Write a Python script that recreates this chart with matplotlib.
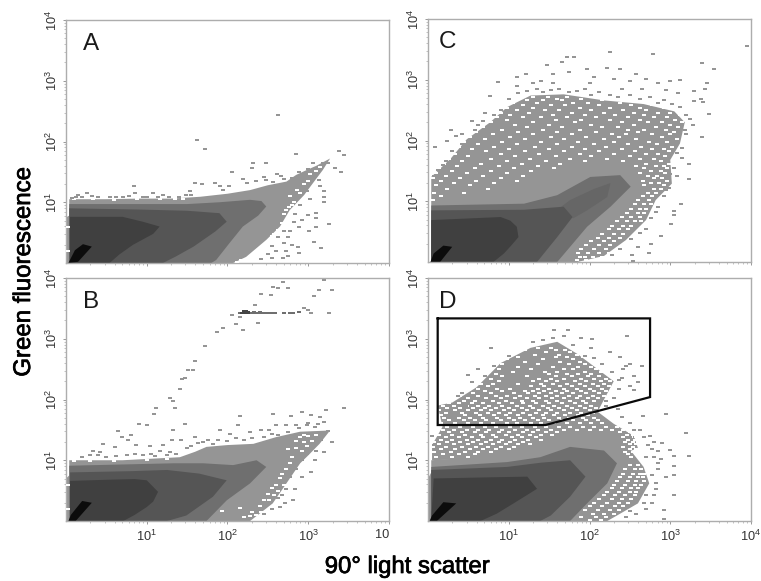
import matplotlib
matplotlib.use("Agg")
import matplotlib.pyplot as plt
import matplotlib.patheffects as pe
from matplotlib.ticker import FixedLocator, LogLocator, NullFormatter

plt.rcParams['font.family'] = ['Liberation Sans', 'DejaVu Sans']
plt.rcParams['mathtext.fontset'] = 'custom'
plt.rcParams['mathtext.rm'] = 'Liberation Sans'

# All values below are log10 of the plotted quantities.
LIGHT, MID, DARK, DARKEST, BLACK = '#959595', '#6f6f6f', '#555555', '#404040', '#0c0c0c'

decade_ticks = [10, 100, 1000, 10000]
tick_labels = [r'$\mathregular{10^{1}}$', r'$\mathregular{10^{2}}$', r'$\mathregular{10^{3}}$', r'$\mathregular{10^{4}}$']

# ---------- Panel A
a_light = [(.0,0),(.0,.75),(.04,.78),(.04,1.05),(.5,1.05),(.9,1.06),(1.3,1.06),(1.66,1.09),(2.0,1.14),(2.28,1.2),(2.5,1.28),(2.73,1.34),(2.85,1.45),(2.98,1.53),(3.1,1.6),(3.27,1.72),(3.18,1.53),(3.05,1.3),(2.95,1.12),(2.77,.87),(2.65,.6),(2.48,.38),(2.23,.1),(2.07,0)]
a_mid = [(.04,0),(.04,.97),(1.5,.97),(1.9,1.0),(2.28,1.04),(2.42,1.02),(2.48,.93),(2.38,.78),(2.19,.6),(2.02,.32),(1.86,.05),(1.8,0)]
a_dark = [(.04,0),(.04,.9),(.9,.88),(1.5,.86),(1.9,.82),(1.99,.68),(1.85,.52),(1.58,.27),(1.35,.1),(1.2,0)]
a_darkest = [(.05,0),(.05,.76),(.7,.76),(.95,.68),(1.16,.6),(1.08,.48),(.83,.3),(.66,.14),(.54,0)]
a_black = [(.03,0),(.15,.02),(.32,.27),(.21,.31),(.11,.21)]
a_specks = [(2.63,2.43),(1.62,2.03),(1.72,1.87),(2.85,1.8),(3.38,1.84),(3.44,1.77),(3.41,1.49),(2.48,1.64),(2.31,1.64),(2.3,1.56),(2.06,1.49),(2.19,1.38),(2.24,1.32),(.84,1.27),(1.6,1.31),(1.69,1.3),(1.84,1.31),(1.91,1.27),(1.95,1.2),(1.53,1.18),(1.49,1.12),(1.57,1.04),(2.61,1.47),(2.66,1.43),(2.56,1.34),(2.48,1.37),(3.25,1.64),(3.18,1.64),(3.06,1.64),(3.33,1.56),(3.12,1.48),(3.14,1.26),(3.2,1.19),(3.19,1.09),(3.2,1),(3.1,.82),(3.1,.74),(3,.79),(3.26,.65),(3.01,.53),(3.1,.59),(3.07,.34),(3.16,.24),(2.87,.27),(2.89,.16),(2.69,.09),(.07,1.07),(.15,1.12),(.26,1.15),(.54,1.09),(.85,1.15),(1.08,1.15),(1.2,1.12),(.4,1.08),(.7,1.09),(.95,1.09),(1.4,1.09),(2.95,1.4),(2.9,1.25),(2.85,1.05),(2.9,.95),(2.84,.8),(2.82,.68),(2.78,.52),(2.75,.42),(2.7,.33),(2.6,.2),(2.5,.14),(2.42,.06),(2.55,.08),(2.8,.3),(2.72,.2),(1.55,1.12),(3.05,1.43),(3.13,1.36),(2.02,1.26),(2.35,1.35),(2.45,1.42),(.12,1.09),(.2,1.08),(.32,1.1),(.62,1.08),(.78,1.1),(1.0,1.08),(1.14,1.08),(1.28,1.09),(2.7,1.38),(2.8,1.4),(2.88,1.5),(3.0,1.55),(2.98,1.18),(3.02,1.05),(2.92,.7),(2.88,.6),(2.7,.52),(2.62,.42),(2.55,.28),(2.75,.12)]
a_holes = [(2.9,1.15),(2.82,1.0),(2.76,.92),(2.7,.8),(2.74,.7),(2.68,.66),(2.62,.55),(2.55,.45),(2.6,.4),(2.5,.33),(2.44,.25),(2.4,.17),(2.3,.1),(2.17,.05),(2.2,.03),(2.26,.04),(2.36,.07),(2.78,1.1),(2.95,1.3),(3.02,1.46),(.02,.2),(.02,.6),(2.52,.28),(2.86,1.2),(2.8,.95),(2.72,.87),(2.58,.48),(2.47,.22),(2.12,.02),(3.0,1.35),(3.1,1.52),(3.15,1.58),(.1,1.05),(.34,1.05),(.6,1.04),(.88,1.05),(1.16,1.05),(1.35,1.05),(1.45,1.06)]

# ---------- Panel B
b_light = [(.0,0),(.0,.7),(.04,.75),(.04,1),(.7,1.0),(1.41,1.05),(1.6,1.14),(1.74,1.22),(2.0,1.25),(2.32,1.27),(2.6,1.38),(2.9,1.47),(3.27,1.49),(3.14,1.27),(3.0,1.08),(2.9,.95),(2.73,.62),(2.56,.29),(2.28,0)]
b_mid = [(.04,0),(.04,.91),(1.33,.95),(1.7,.95),(2.07,.92),(2.36,1),(2.48,.89),(2.28,.62),(1.99,.34),(1.74,0)]
b_dark = [(.05,0),(.05,.8),(.8,.82),(1.25,.84),(1.65,.78),(1.99,.67),(1.82,.4),(1.49,.09),(1.25,0)]
b_darkest = [(.05,0),(.05,.66),(.54,.68),(.85,.69),(1,.67),(1.14,.48),(1.08,.32),(1,.23),(.85,.1),(.71,0)]
b_black = [(.03,0),(.12,0),(.32,.3),(.2,.33),(.06,.1)]
b_specks = [(.9,1.6),(1,1.58),(1.09,1.76),(1.12,1.86),(1.29,2.02),(1.32,1.98),(1.35,1.86),(1.41,2.17),(1.44,2.34),(1.47,2.36),(1.51,2.48),(1.57,2.48),(1.6,2.64),(1.72,2.88),(1.87,3.11),(1.95,3.17),(2.06,3.39),(2.1,3.24),(2.19,3.14),(2.16,3.36),(2.34,3.55),(2.38,3.26),(2.41,3.74),(2.54,3.72),(2.56,3.86),(2.63,3.83),(2.69,3.93),(2.75,3.83),(2.95,3.51),(3,3.48),(3.04,3.43),(3.07,3.7),(3.13,3.8),(3.2,3.96),(3.29,3.8),(3.26,3.43),(3.44,1.86),(3.22,1.82),(2.56,1.76),(2.16,1.73),(2.13,1.58),(1.47,1.6),(1.32,1.5),(1.6,1.38),(.65,1.48),(.69,1.38),(.81,1.42),(.77,1.33),(.87,1.25),(.46,1.26),(.61,1.22),(.34,1.16),(.42,1.14),(1.04,1.24),(1.2,1.25),(1.31,1.33),(1.16,1.16),(1.43,1.33),(1.29,1.14),(1.91,1.49),(2.03,1.44),(1.76,1.33),(1.82,1.27),(2.79,1.73),(2.92,1.8),(3.04,1.74),(2.73,1.58),(2.6,1.58),(2.28,1.47),(2.41,1.49),(2.52,1.49),(3.14,1.71),(3.2,1.63),(3.25,1.48),(3.29,1.3),(3.16,1.33),(3.1,1.16),(3.2,1.14),(3.08,1),(3.04,.8),(2.92,.73),(2.83,.53),(2.81,.34),(2.71,.29),(2.65,.23),(.3,1.08),(.5,1.05),(.62,1.07),(.75,1.09),(.95,1.08),(1.1,1.07),(1.25,1.08),(1.36,1.1),(1.5,1.2),(1.63,1.28),(2.0,1.32),(2.2,1.33),(2.45,1.38),(2.62,1.42),(2.75,1.46),(2.88,1.53),(2.98,1.58),(3.08,1.55),(2.98,1.1),(2.92,1.0),(2.85,.85),(2.78,.72),(2.72,.52),(2.62,.38),(2.55,.2),(2.45,.12),(2.68,.42),(.2,1.06),(.4,1.08),(.85,1.1),(1.05,1.1),(1.55,1.24),(1.7,1.3),(1.88,1.33),(2.1,1.36),(2.3,1.36),(2.55,1.44),(2.85,1.58),(3.0,1.62),(3.12,1.6)]
b_blob = [(2.2,3.43),(2.23,3.44),(2.26,3.44),(2.23,3.46),(2.2,3.45),(2.18,3.42),(2.25,3.42)]
b_streak = [(2.16,3.42),(2.29,3.43),(2.33,3.44),(2.36,3.43),(2.41,3.42),(2.46,3.43),(2.5,3.43),(2.55,3.43),(2.59,3.43),(2.7,3.43),(2.77,3.43),(2.81,3.43),(2.88,3.44),(2.34,3.43),(2.4,3.44)]
b_holes = [(2.85,1.32),(2.9,1.38),(2.95,1.3),(2.98,1.24),(2.85,1.2),(2.8,1.05),(2.75,1.18),(2.68,.78),(2.65,.7),(2.6,.6),(2.55,.55),(2.62,.5),(2.5,.45),(2.45,.35),(2.4,.25),(2.3,.15),(2.28,.08),(2.2,.06),(2.15,.22),(1.93,.17),(2.52,.35),(.02,.2),(.02,.6),(2.72,.85),(3.0,1.4),(3.05,1.32),(2.92,1.15),(2.78,.95),(2.7,.6),(2.58,.42),(2.42,.15),(2.35,.1),(2.95,1.42),(3.1,1.42),(.1,.98),(.3,.98),(.6,.98),(1.0,1.0),(1.25,1.02)]

# ---------- Panel C
c_cloud = [(.04,.96),(.04,1.4),(.28,1.7),(.48,2.02),(.77,2.3),(.98,2.55),(1.27,2.74),(1.68,2.76),(2.18,2.66),(2.67,2.6),(3.05,2.48),(3.18,2.3),(3.12,1.95),(3.0,1.68),(3.02,1.29),(2.82,1.02),(2.7,.69),(2.45,.36),(2.18,.1),(1.85,0),(.04,0)]
c_mid = [(.04,0),(.04,.93),(1.19,.96),(1.6,1.1),(2.01,1.4),(2.38,1.43),(2.51,1.24),(2.26,.91),(1.97,.58),(1.76,.25),(1.6,0)]
c_midd = [(1.6,.86),(1.76,1.02),(2.05,1.2),(2.26,1.3),(2.22,1.07),(1.97,.85),(1.8,.72)]
c_dark = [(.04,0),(.04,.85),(1.19,.86),(1.68,.91),(1.79,.74),(1.6,.41),(1.35,0)]
c_darkest = [(.04,0),(.04,.69),(.9,.74),(1.02,.68),(1.1,.58),(1.12,.41),(1.03,.27),(.94,.14),(.81,0)]
c_black = [(.03,0),(.15,0),(.3,.25),(.19,.27),(.07,.14)]
c_specks = [(3.95,3.55),(2.25,3.46),(2.79,3.43),(3.39,3.28),(3.54,3.17),(1.47,3.24),(1.66,3.3),(1.72,3.37),(1.81,3.37),(1.97,3.17),(2.22,3.2),(2.38,3.17),(2.57,3.1),(1.1,3.04),(1.21,3.1),(.87,2.96),(.77,2.74),(.09,1.9),(.28,2.17),(.42,2.11),(.71,2.45),(3.48,2.43),(3.39,2.06),(3.23,1.62),(3.23,1.36),(3.13,.96),(3.05,.84),(3.05,.77),(3.01,.62),(2.88,.42),(2.76,.3),(2.74,.14),(2.53,.11),(2.54,.02),(1.1,2.9),(1.4,2.98),(1.55,3.1),(1.75,3.13),(2.05,3.05),(2.3,3.02),(2.5,2.98),(2.7,3.02),(2.85,2.95),(3.0,2.98),(3.12,3.0),(3.3,2.82),(3.43,2.85),(3.45,2.95),(3.3,2.65),(3.38,2.68),(3.4,2.63),(2.0,2.95),(1.3,2.95),(1.55,2.95),(1.95,2.85),(2.4,2.85),(2.65,2.85),(2.95,2.83),(3.1,2.78),(.18,1.6),(.23,2.0),(.55,2.32),(.62,2.25),(.35,2.07),(3.2,2.1),(3.28,2.25),(3.15,1.72),(3.15,1.88),(3.0,1.45),(2.95,1.18),(2.85,.9),(2.7,.55),(2.6,.25),
 (1.0,2.68),(1.12,2.78),(1.22,2.82),(1.35,2.85),(1.42,2.8),(1.52,2.83),(1.62,2.85),(1.75,2.8),(1.85,2.82),(2.02,2.75),(2.12,2.8),(2.25,2.75),(2.35,2.72),(2.5,2.75),(2.62,2.68),(2.75,2.72),(2.85,2.62),(2.92,2.66),(3.02,2.6),(3.12,2.55),(3.2,2.42),(3.24,2.35),(3.18,2.18),(3.1,1.98),(3.08,1.8),(3.05,1.55),(3.08,1.42),(2.98,1.22),(2.92,1.08),(2.82,.82),(2.76,.72),(2.62,.48),(2.52,.38),(2.38,.22),(2.28,.12),(.9,2.5),(.82,2.42),(.68,2.32),(.58,2.18),(.42,1.95),(.3,1.82),(.22,1.66),(.12,1.52),(.08,1.42)]
c_holes = [
 (2.72,[1.3,1.48,1.72,2.05]),(2.69,[1.12,1.6,1.9,2.3,2.48]),(2.66,[1.22,1.42,1.66,2.15,2.6,2.72]),(2.62,[1.05,1.35,1.8,1.98,2.38,2.88]),
 (2.58,[1.18,1.52,1.7,2.12,2.52,2.78,3.0]),(2.54,[.98,1.3,1.88,2.26,2.62,2.92]),(2.5,[1.1,1.45,1.62,2.02,2.42,2.7,3.08]),
 (2.46,[.9,1.25,1.78,2.18,2.55,2.85,3.0]),(2.42,[1.02,1.55,1.95,2.32,2.68,3.12]),(2.38,[.85,1.18,1.4,1.72,2.08,2.48,2.8,2.96]),
 (2.34,[.98,1.58,1.9,2.25,2.62,3.06]),(2.3,[.78,1.3,1.82,2.4,2.72,2.9,3.14]),(2.26,[1.08,1.5,2.02,2.55,3.0]),
 (2.22,[.68,1.22,1.66,2.15,2.35,2.82,3.1]),(2.18,[.92,1.42,1.88,2.48,2.68,2.95]),(2.14,[.6,1.12,1.6,2.08,2.6,3.05]),
 (2.1,[.8,1.3,1.78,2.28,2.45,2.78,3.0]),(2.06,[.52,1.02,1.52,1.96,2.36,2.9]),(2.02,[.7,1.2,1.68,2.18,2.58,3.08]),
 (1.98,[.44,.92,1.4,1.86,2.3,2.74,2.96]),(1.94,[.62,1.1,1.6,2.06,2.48,2.84]),(1.9,[.38,.82,1.32,1.78,2.2,2.64,3.02]),
 (1.86,[.54,1.0,1.5,1.95,2.4,2.78,2.92]),(1.82,[.72,1.2,1.68,2.12,2.56,2.98]),(1.78,[.34,.9,1.38,1.88,2.3,2.7,2.85]),
 (1.74,[.5,1.08,1.58,2.02,2.5,2.94]),(1.7,[.26,.78,1.26,1.76,2.22,2.62,2.8]),(1.66,[.42,.98,1.46,1.94,2.42,2.88]),
 (1.62,[.2,.66,1.16,1.64,2.7,2.98]),(1.58,[.36,.88,1.36,2.58,2.82,2.92]),(1.54,[.14,.58,1.06,1.56,2.68,2.96]),
 (1.5,[.3,.78,1.28,2.76,2.88]),(1.46,[.1,.48,.98,2.62,2.94]),(1.42,[.22,.68,1.18,2.72,2.84]),(1.38,[.06,.4,.9,2.8,2.9]),
 (1.34,[.16,.6,1.1,2.66,2.96]),(1.3,[.32,.82,2.76,2.86]),(1.26,[.1,.52,2.68,2.92]),(1.2,[.24,.74,2.8,2.88]),
 (1.14,[.08,.44,2.72,2.82]),(1.08,[.16,2.66,2.78]),(1.02,[.06,2.6,2.74]),(.95,[2.56,2.68,2.76]),(.88,[2.52,2.62,2.7]),
 (.8,[2.46,2.6,2.68]),(.74,[2.4,2.52,2.62]),(.68,[2.34,2.46,2.56,2.64]),(.6,[2.28,2.42,2.52]),(.54,[2.24,2.36,2.48]),
 (.46,[2.16,2.3,2.42]),(.4,[2.1,2.24,2.38]),(.34,[2.02,2.18,2.3]),(.28,[1.96,2.12,2.26]),(.22,[1.9,2.05,2.2]),
 (.15,[1.86,1.98,2.12,2.24]),(.08,[1.88,1.94,2.04,2.16]),(.03,[1.84,1.96,2.08]),
]

# ---------- Panel D
d_cloud = [(.05,1.0),(.05,1.25),(.18,1.55),(.12,1.9),(.3,1.95),(.6,2.2),(.9,2.6),(1.27,2.85),(1.6,2.95),(1.85,2.75),(2.1,2.5),(2.3,2.3),(2.1,1.8),(2.3,1.6),(2.55,1.4),(2.6,1.2),(2.4,1.1)]
d_light = [(.0,0),(.0,.7),(.04,.8),(.04,1),(.9,1.08),(1.39,1.33),(1.85,1.44),(2.26,1.33),(2.51,1.16),(2.67,.89),(2.74,.62),(2.6,.29),(2.34,.09),(2.22,0)]
d_mid = [(.04,0),(.04,.89),(.98,.97),(1.39,1.05),(1.76,1.22),(2.18,1.16),(2.34,.95),(2.22,.62),(1.97,.29),(1.76,0)]
d_dark = [(.04,0),(.04,.84),(.98,.89),(1.4,.96),(1.76,1),(1.95,.73),(1.76,.4),(1.52,.09),(1.39,0)]
d_darkest = [(.04,0),(.07,.7),(.8,.72),(1.23,.73),(1.35,.53),(1.06,.29),(.85,.12),(.65,0)]
d_black = [(.02,0),(.11,0),(.35,.29),(.19,.31),(.05,.09)]
d_specks = [(1.56,3.15),(2.47,3.04),(.78,2.85),(1.73,3.15),(1.9,3.02),(2.03,3.0),(2.02,2.85),(2.25,2.78),(2.38,2.7),(2.5,2.58),(2.45,2.55),(.49,2.4),(.62,2.5),(.37,2.05),(2.55,2.38),(2.5,2.22),(2.65,2.55),(2.55,2.15),(2.6,2.28),(2.4,2.35),(2.37,2.18),(2.3,2.02),(2.2,1.98),(2.95,1.76),(3.2,1.45),(3.23,1.07),(2.66,1.73),(2.8,1.3),(2.9,1.28),(3.0,1.17),(3.05,1.07),(3.05,.9),(3.05,.75),(3.05,.42),(2.92,.18),(2.92,.04),(2.85,.95),(2.95,.72),(2.82,.52),(2.8,.42),(2.78,.3),(2.7,.2),(2.58,.12),(2.45,.06),(2.7,1.05),(2.85,1.15),(2.75,1.4),(2.55,1.5),(.05,1.4),(.07,1.25),(.2,1.82),(.3,1.75),(.4,1.82),(.47,1.9),(2.5,1.38),
 (1.3,2.95),(1.42,2.98),(1.55,3.02),(1.68,3.05),(1.8,2.9),(1.95,2.72),(2.05,2.68),(2.15,2.58),(2.28,2.45),(2.36,2.32),(2.42,2.5),(1.0,2.72),(.82,2.55),(.7,2.38),(.55,2.28),(.42,2.1),(2.2,1.9),(2.35,1.85),(2.4,1.72),(2.5,1.62),(2.62,1.5),(2.68,1.38),(2.72,1.25),(2.78,1.18),(2.8,1.05),(2.85,.85),(2.78,.75),(2.82,.62),(2.7,.42),(2.68,.3),(2.5,.16),(2.88,1.02)]
d_holes = [
 (2.85,[1.36,1.52]),(2.82,[1.2,1.58,1.7]),(2.78,[1.1,1.46,1.76]),(2.74,[1.0,1.32,1.62,1.84]),(2.7,[1.12,1.58,1.72,1.92]),(2.66,[.98,1.42,1.8,1.98]),
 (2.62,[1.2,1.64,1.88,2.05]),(2.58,[.92,1.36,1.74,1.95,2.1]),(2.54,[.82,1.12,1.55,1.86,2.02,2.16]),(2.5,[.88,1.28,1.68,1.8,2.08,2.2]),(2.46,[.76,1.05,1.45,1.6,1.94,2.14,2.24]),
 (2.42,[.84,1.5,1.72,1.86,2.02,2.26]),(2.38,[.7,.92,1.22,1.58,1.78,1.98,2.12,2.28]),(2.34,[.78,1.38,1.52,1.68,1.9,2.06,2.2]),(2.3,[.6,.88,1.3,1.46,1.6,1.82,1.96,2.14,2.26]),
 (2.26,[.66,.8,1.12,1.4,1.55,1.72,1.88,2.04,2.18]),(2.22,[.54,.74,1.28,1.44,1.64,1.78,1.94,2.1,2.24]),(2.18,[.62,.86,1.02,1.36,1.5,1.68,1.84,2.0,2.16,2.28]),
 (2.14,[.48,.7,.92,1.2,1.3,1.44,1.58,1.72,1.9,2.06,2.2]),(2.1,[.56,.78,1.06,1.24,1.38,1.52,1.66,1.8,1.96,2.12]),(2.06,[.4,.62,.84,.98,1.14,1.32,1.46,1.6,1.74,1.88,2.04,2.18]),
 (2.02,[.32,.5,.72,.9,1.08,1.22,1.38,1.54,1.68,1.84,1.98,2.1]),(1.98,[.44,.58,.8,.96,1.16,1.3,1.46,1.6,1.76,1.92,2.06]),(1.94,[.26,.38,.54,.68,.88,1.04,1.18,1.34,1.5,1.66,1.82,1.96]),
 (1.9,[.18,.32,.48,.62,.76,.92,1.1,1.26,1.42,1.56,1.72,1.88,2.02]),(1.86,[.24,.4,.56,.7,.84,1.0,1.16,1.3,1.48,1.62,1.78,1.94,2.08]),(1.82,[.14,.34,.5,.66,.78,.94,1.06,1.22,1.38,1.52,1.68,1.84,2.0]),
 (1.78,[.22,.42,.6,.74,.88,1.02,1.18,1.34,1.46,1.6,1.76,1.9,2.04]),(1.74,[.16,.3,.46,.64,.82,.96,1.12,1.26,1.42,1.56,1.7,1.86,1.98]),(1.7,[.2,.38,.52,.68,.86,1.0,1.14,1.3,1.44,1.62,1.74,1.92,2.06]),
 (1.66,[.26,.44,.58,.72,.9,1.06,1.2,1.36,1.5,1.66,1.8,1.96,2.1]),(1.62,[.16,.34,.5,.66,.8,.98,1.1,1.28,1.4,1.56,1.72,1.88,2.02,2.16]),(1.54,[.1,.24,.4,.56,.7,.84,1.02,1.16,1.32,1.46,1.62,1.76,1.92,2.06,2.2,2.34]),
 (1.5,[.18,.32,.48,.62,.76,.92,1.08,1.22,1.36,1.52,1.68,1.84,2.0,2.14,2.28,2.42]),(1.46,[.08,.26,.42,.58,.72,.88,1.0,1.18,1.3,1.46,1.6,2.38,2.5]),(1.42,[.14,.3,.46,.66,.8,.96,1.12,1.26,1.4,1.54,2.46,2.54]),
 (1.38,[.08,.22,.38,.54,.68,.84,1.04,1.16,1.34,2.42,2.52,2.58]),(1.34,[.16,.3,.48,.62,.78,.92,1.08,1.24,1.4,2.48,2.56]),(1.3,[.08,.24,.4,.56,.72,.88,1.02,1.18,2.44,2.54,2.6]),
 (1.26,[.14,.32,.5,.66,.8,.96,1.12,1.26,2.5,2.58]),(1.22,[.06,.22,.42,.6,.74,.9,1.06,2.42,2.54]),(1.18,[.16,.34,.52,.68,.84,1.0,2.5,2.58]),(1.14,[.08,.28,.46,.62,.78,2.44,2.54]),(1.1,[.18,.38,.58,2.48,2.58]),(1.06,[.1,.3,.5,2.52,2.62]),
 (.92,[2.5,2.6]),(.85,[2.44,2.56,2.64]),(.78,[2.42,2.54,2.62,2.68]),(.72,[2.38,2.5,2.6,2.66]),(.66,[2.34,2.48,2.58,2.68]),(.6,[2.3,2.44,2.56,2.64]),(.54,[2.28,2.4,2.52,2.6]),(.48,[2.22,2.36,2.5,2.58]),(.42,[2.18,2.32,2.44,2.56]),(.36,[2.12,2.28,2.4,2.52]),(.3,[2.06,2.22,2.36,2.48]),(.24,[2.0,2.16,2.32,2.42]),(.18,[1.94,2.1,2.26,2.36]),(.12,[2.04,2.18,2.3]),(.06,[1.9,2.08,2.2]),(.02,[2.0,2.14]),
]
d_gate = [(.12,3.335),(2.75,3.335),(2.75,2.04),(1.455,1.58),(.12,1.58)]

panels = [
    dict(name='A', pos=(66,20), lab=25, bands=[(a_light,LIGHT),(a_mid,MID),(a_dark,DARK),(a_darkest,DARKEST),(a_black,BLACK)], specks=a_specks, holes=a_holes),
    dict(name='C', pos=(428,19), lab=20, bands=[(c_cloud,LIGHT),(c_mid,MID),(c_midd,'#666666'),(c_dark,DARK),(c_darkest,DARKEST),(c_black,BLACK)], specks=c_specks, holes=[(x,y) for y,xs in c_holes for x in xs]),
    dict(name='B', pos=(66,278), lab=25, bands=[(b_light,LIGHT),(b_mid,MID),(b_dark,DARK),(b_darkest,DARKEST),(b_black,BLACK)], specks=b_specks, holes=b_holes),
    dict(name='D', pos=(428,278), lab=20, bands=[(d_cloud,LIGHT),(d_light,LIGHT),(d_mid,MID),(d_dark,DARK),(d_darkest,DARKEST),(d_black,BLACK)], specks=d_specks, holes=[(x,y) for y,xs in d_holes for x in xs]),
]

W, H = 761, 581
AW, AH = 323, 243
fig = plt.figure(figsize=(W/100, H/100), dpi=100)
FRAME = '#adadad'
CELL = [(-1,-.6),(1,-.6),(1,.6),(-1,.6)]

def up(points):
    return [10**p[0] for p in points], [10**p[1] for p in points]

for p in panels:
    left, top = p['pos']
    ax = fig.add_axes([left/W, 1-(top+AH)/H, AW/W, AH/H])
    ax.set_xscale('log'); ax.set_yscale('log')
    ax.set_xlim(1, 1e4); ax.set_ylim(1, 1e4)
    for poly, col in p['bands']:
        xs, ys = up(poly)
        ax.fill(xs, ys, color=col, lw=0, zorder=2)
    hx, hy = up(p['holes'])
    ax.scatter(hx, hy, marker=CELL, s=5.5, c='white', linewidths=0, zorder=3)
    sx, sy = up(p['specks'])
    ax.scatter(sx, sy, marker=CELL, s=6.0, c=LIGHT, linewidths=0, zorder=4)
    for sp in ax.spines.values():
        sp.set_color(FRAME); sp.set_linewidth(1.0)
    ax.xaxis.set_major_locator(FixedLocator(decade_ticks))
    ax.yaxis.set_major_locator(FixedLocator(decade_ticks))
    for axis in (ax.xaxis, ax.yaxis):
        axis.set_minor_locator(LogLocator(base=10, subs=range(2,10), numticks=12))
        axis.set_minor_formatter(NullFormatter())
    ax.tick_params(which='major', length=2.5, width=.6, color='#888888', labelcolor='#333333', labelsize=9.2, pad=2)
    ax.tick_params(which='minor', length=1.2, width=.5, color='#aaaaaa')
    ax.set_yticklabels(tick_labels, rotation=90, va='center')
    if p['name'] in 'BD':
        labs = list(tick_labels)
        if p['name'] == 'B':
            labs[-1] = '10'
        ax.set_xticklabels(labs)
        ax.tick_params(axis='x', which='major', pad=3)
        if p['name'] == 'B':
            ax.get_xticklabels()[-1].set_ha('right')
    else:
        ax.set_xticklabels([])
    ax.text(p['lab']/AW, 1-23.5/AH, p['name'], transform=ax.transAxes, fontsize=17.5, color='#1a1a1a', ha='center', va='center', zorder=6)
    if p['name'] == 'B':
        bx, by = up(b_streak)
        ax.scatter(bx, by, marker=CELL, s=6, c=MID, linewidths=0, zorder=5)
        bx, by = up(b_blob)
        ax.scatter(bx, by, marker=CELL, s=7, c='#454545', linewidths=0, zorder=5)
    if p['name'] == 'D':
        gx, gy = up(d_gate + d_gate[:1])
        ax.plot(gx, gy, color='#0a0a0a', lw=1.6, solid_joinstyle='miter', zorder=7)

stroke = [pe.withStroke(linewidth=.5, foreground='black')]
fig.text(407/W, 1-567/H, '90° light scatter', fontsize=17.2, color='black', ha='center', va='center', path_effects=stroke)
fig.text(24/W, 1-272/H, 'Green fluorescence', fontsize=17.3, color='black', rotation=90, ha='center', va='center', path_effects=stroke)

fig.savefig('out.png', dpi=100)
